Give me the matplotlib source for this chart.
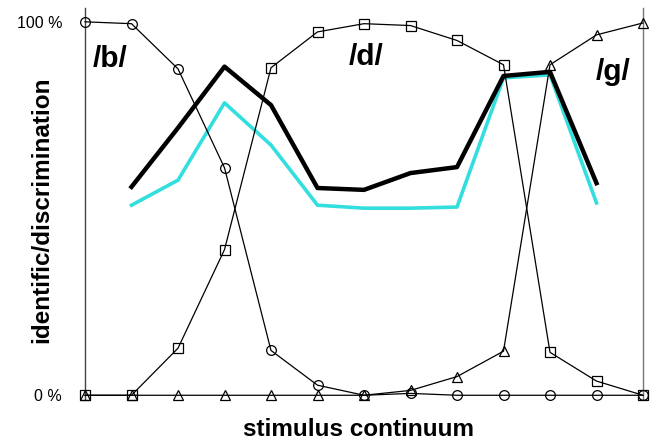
import matplotlib
matplotlib.use('Agg')
import matplotlib.pyplot as plt

# stimulus steps along the continuum
steps = list(range(1, 14))

# identification curves (%)
ident_b = [100, 99.5, 87.4, 60.9, 12.0, 2.7, 0, 0.5, 0, 0, 0, 0, 0]
ident_d = [0, 0, 12.6, 39.0, 87.7, 97.3, 99.5, 99.0, 95.0, 88.5, 11.5, 3.8, 0]
ident_g = [0, 0, 0, 0, 0, 0, 0, 1.3, 5.0, 11.8, 88.5, 96.5, 99.7]

# discrimination curves (%), steps 2..12
disc_steps = list(range(2, 13))
disc_black = [55.8, 71.6, 88.0, 77.7, 55.5, 55.0, 59.5, 61.1, 85.5, 86.6, 56.8]
disc_cyan = [50.9, 57.6, 78.3, 67.0, 50.9, 50.1, 50.1, 50.4, 85.0, 85.8, 51.5]

plt.rcParams['font.family'] = ['Liberation Sans', 'DejaVu Sans']

fig = plt.figure(figsize=(6.59, 4.41), dpi=100)
ax = fig.add_axes([85 / 659, 1 - 399 / 441, (643 - 85) / 659, (399 - 8) / 441])

ax.plot(disc_steps, disc_cyan, color='#33dede', lw=2.6, zorder=2)
ax.plot(disc_steps, disc_black, color='black', lw=3.2, zorder=3)

ax.plot(steps, ident_b, color='black', lw=0.9, marker='o', ms=7,
        mfc='none', mec='black', mew=0.9, clip_on=False, zorder=4)
ax.plot(steps, ident_d, color='black', lw=0.9, marker='s', ms=7,
        mfc='none', mec='black', mew=0.9, clip_on=False, zorder=4)
ax.plot(steps, ident_g, color='black', lw=0.9, marker='^', ms=7.5,
        mfc='none', mec='black', mew=0.9, clip_on=False, zorder=4)

ax.set_xlim(1, 13)
ax.set_ylim(-1, 103.7)

ax.set_yticks([0, 100])
ax.set_yticklabels(['0 %', '100 %'], fontsize=11.5)
ax.tick_params(axis='y', length=0, pad=16.5)
ax.set_xticks([])

for side in ['top', 'bottom']:
    ax.spines[side].set_visible(False)
ax.spines['left'].set_color('#444444')
ax.spines['right'].set_color('#777777')
ax.spines['left'].set_linewidth(1)
ax.spines['right'].set_linewidth(1)

ax.text(1.54, 87.9, '/b/', fontsize=21.5, fontweight='bold', ha='center', va='baseline')
ax.text(7.04, 88.5, '/d/', fontsize=21.5, fontweight='bold', ha='center', va='baseline')
ax.text(12.35, 84.5, '/g/', fontsize=21.5, fontweight='bold', ha='center', va='baseline')

fig.text(42 / 659, 1 - 210 / 441, 'identific/discrimination', rotation=90,
         fontsize=17.5, fontweight='bold', ha='center', va='center')
fig.text(359 / 659, 1 - 429 / 441, 'stimulus continuum',
         fontsize=17.5, fontweight='bold', ha='center', va='center')

fig.savefig('out.png', dpi=100)
